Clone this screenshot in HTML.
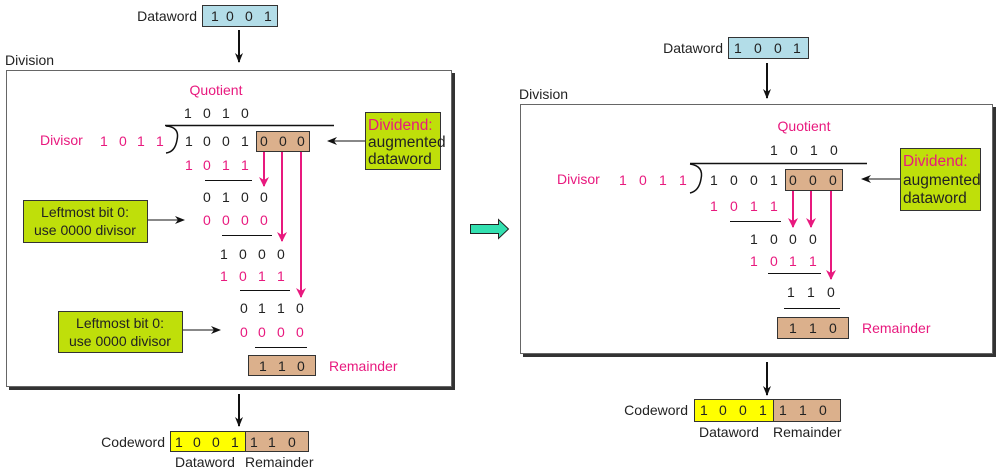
<!DOCTYPE html>
<html><head><meta charset="utf-8"><style>
html,body{margin:0;padding:0;background:#fff;}
svg{display:block;}
text{font-family:"Liberation Sans",sans-serif;font-size:14px;}
.p{fill:#e8197e;}
.k{fill:#222;}
.b{font-size:15.5px;}
</style></head><body>
<svg width="1001" height="471" viewBox="0 0 1001 471" xmlns="http://www.w3.org/2000/svg">
<defs>
<marker id="ab" markerWidth="10" markerHeight="10" refX="9" refY="5" orient="auto" markerUnits="userSpaceOnUse"><path d="M0,1 L10,5 L0,9 L3,5 Z" fill="#111"/></marker>
<marker id="ap" markerWidth="10" markerHeight="12" refX="9" refY="5" orient="auto" markerUnits="userSpaceOnUse"><path d="M0,0 L10,5 L0,10 L3,5 Z" fill="#e8197e"/></marker>
</defs>

<!-- ============ LEFT ============ -->
<text x="197" y="21" text-anchor="end" class="k">Dataword</text>
<rect x="202.5" y="5.5" width="75" height="21" fill="#b3dde8" stroke="#333"/>
<text x="211" y="21" class="k">1</text><text x="226" y="21" class="k">0</text><text x="245" y="21" class="k">0</text><text x="264" y="21" class="k">1</text>
<line x1="239" y1="30" x2="239" y2="62" stroke="#111" stroke-width="2" marker-end="url(#ab)"/>
<text x="5" y="65" class="k">Division</text>
<rect x="9" y="73" width="446" height="317" fill="#333"/>
<rect x="6.5" y="70.5" width="445" height="316" fill="#fff" stroke="#666"/>

<text x="216" y="95" text-anchor="middle" class="p">Quotient</text>
<text x="184" y="118" class="k">1</text><text x="203" y="118" class="k">0</text><text x="222" y="118" class="k">1</text><text x="241" y="118" class="k">0</text>
<line x1="165" y1="125.5" x2="334" y2="125.5" stroke="#111" stroke-width="1.5"/>
<path d="M166,126 Q180,127 177,140 Q175,152 166,153" fill="none" stroke="#111" stroke-width="1.5"/>
<text x="40" y="145" class="p">Divisor</text>
<text x="100" y="146" class="p">1</text><text x="119" y="146" class="p">0</text><text x="137" y="146" class="p">1</text><text x="156" y="146" class="p">1</text>
<text x="185" y="146" class="k">1</text><text x="203" y="146" class="k">0</text><text x="222" y="146" class="k">0</text><text x="241" y="146" class="k">1</text>
<rect x="256.5" y="131.5" width="53" height="20" fill="#dbb08c" stroke="#333"/>
<text x="260" y="146" class="k">0</text><text x="279" y="146" class="k">0</text><text x="297" y="146" class="k">0</text>
<rect x="365.5" y="112.5" width="75" height="57" fill="#bfdf0a" stroke="#333"/>
<text x="368" y="130" class="p b">Dividend:</text>
<text x="368" y="147" class="k b">augmented</text>
<text x="368" y="164" class="k b">dataword</text>
<line x1="365" y1="141" x2="328" y2="141" stroke="#111" stroke-width="1" marker-end="url(#ab)"/>
<text x="185" y="170" class="p">1</text><text x="203" y="170" class="p">0</text><text x="222" y="170" class="p">1</text><text x="241" y="170" class="p">1</text>
<line x1="205" y1="180.5" x2="252" y2="180.5" stroke="#111"/>
<line x1="264" y1="152" x2="264" y2="186" stroke="#e8197e" stroke-width="2" marker-end="url(#ap)"/>
<line x1="282" y1="152" x2="282" y2="241" stroke="#e8197e" stroke-width="2" marker-end="url(#ap)"/>
<line x1="301" y1="152" x2="301" y2="297" stroke="#e8197e" stroke-width="2" marker-end="url(#ap)"/>
<text x="203" y="202" class="k">0</text><text x="222" y="202" class="k">1</text><text x="241" y="202" class="k">0</text><text x="260" y="202" class="k">0</text>
<rect x="23.5" y="200.5" width="124" height="42" fill="#bfdf0a" stroke="#333"/>
<text x="85" y="217" text-anchor="middle" class="k">Leftmost bit 0:</text>
<text x="85" y="235" text-anchor="middle" class="k">use 0000 divisor</text>
<line x1="148" y1="220" x2="184" y2="220" stroke="#111" marker-end="url(#ab)"/>
<text x="203" y="225" class="p">0</text><text x="222" y="225" class="p">0</text><text x="241" y="225" class="p">0</text><text x="260" y="225" class="p">0</text>
<line x1="222" y1="235.5" x2="272" y2="235.5" stroke="#111"/>
<text x="220" y="259" class="k">1</text><text x="239" y="259" class="k">0</text><text x="258" y="259" class="k">0</text><text x="277" y="259" class="k">0</text>
<text x="220" y="281" class="p">1</text><text x="239" y="281" class="p">0</text><text x="258" y="281" class="p">1</text><text x="277" y="281" class="p">1</text>
<line x1="240" y1="290.5" x2="290" y2="290.5" stroke="#111"/>
<text x="240" y="313" class="k">0</text><text x="258" y="313" class="k">1</text><text x="277" y="313" class="k">1</text><text x="296" y="313" class="k">0</text>
<rect x="58.5" y="311.5" width="124" height="41" fill="#bfdf0a" stroke="#333"/>
<text x="120" y="328" text-anchor="middle" class="k">Leftmost bit 0:</text>
<text x="120" y="346" text-anchor="middle" class="k">use 0000 divisor</text>
<line x1="183" y1="330" x2="220" y2="330" stroke="#111" marker-end="url(#ab)"/>
<text x="240" y="337" class="p">0</text><text x="258" y="337" class="p">0</text><text x="277" y="337" class="p">0</text><text x="296" y="337" class="p">0</text>
<line x1="255" y1="347.5" x2="307" y2="347.5" stroke="#111"/>
<rect x="248.5" y="355.5" width="67" height="20" fill="#dbb08c" stroke="#333"/>
<text x="259" y="371" class="k">1</text><text x="278" y="371" class="k">1</text><text x="297" y="371" class="k">0</text>
<text x="329" y="371" class="p">Remainder</text>
<line x1="239" y1="394" x2="239" y2="426" stroke="#111" stroke-width="2" marker-end="url(#ab)"/>
<text x="165" y="447" text-anchor="end" class="k">Codeword</text>
<rect x="170.5" y="431.5" width="75" height="20" fill="#ffff00" stroke="#333"/>
<rect x="245.5" y="431.5" width="63" height="20" fill="#dbb08c" stroke="#333"/>
<text x="175" y="447" class="k">1</text><text x="193" y="447" class="k">0</text><text x="212" y="447" class="k">0</text><text x="231" y="447" class="k">1</text>
<text x="250" y="447" class="k">1</text><text x="268" y="447" class="k">1</text><text x="288" y="447" class="k">0</text>
<text x="175" y="467" class="k">Dataword</text><text x="245" y="467" class="k">Remainder</text>

<!-- teal arrow -->
<path d="M470.5,224.5 L498.5,224.5 L498.5,219.5 L508.5,229 L498.5,238.5 L498.5,233.5 L470.5,233.5 Z" fill="#33e0b0" stroke="#222"/>

<!-- ============ RIGHT ============ -->
<text x="723" y="53" text-anchor="end" class="k">Dataword</text>
<rect x="728.5" y="37.5" width="80" height="21" fill="#b3dde8" stroke="#333"/>
<text x="734" y="53" class="k">1</text><text x="754" y="53" class="k">0</text><text x="774" y="53" class="k">0</text><text x="793" y="53" class="k">1</text>
<line x1="767" y1="63" x2="767" y2="98" stroke="#111" stroke-width="2" marker-end="url(#ab)"/>
<text x="519" y="99" class="k">Division</text>
<rect x="523" y="107" width="473" height="250" fill="#333"/>
<rect x="520.5" y="104.5" width="472" height="249" fill="#fff" stroke="#666"/>

<text x="804" y="131" text-anchor="middle" class="p">Quotient</text>
<text x="770" y="155" class="k">1</text><text x="790" y="155" class="k">0</text><text x="810" y="155" class="k">1</text><text x="830" y="155" class="k">0</text>
<line x1="690" y1="163.5" x2="867" y2="163.5" stroke="#111" stroke-width="1.5"/>
<path d="M690,164 Q704,166 701,179 Q699,191 690,193" fill="none" stroke="#111" stroke-width="1.5"/>
<text x="557" y="184" class="p">Divisor</text>
<text x="619" y="185" class="p">1</text><text x="639" y="185" class="p">0</text><text x="659" y="185" class="p">1</text><text x="679" y="185" class="p">1</text>
<text x="710" y="185" class="k">1</text><text x="730" y="185" class="k">0</text><text x="750" y="185" class="k">0</text><text x="770" y="185" class="k">1</text>
<rect x="785.5" y="169.5" width="57" height="21" fill="#dbb08c" stroke="#333"/>
<text x="789" y="185" class="k">0</text><text x="809" y="185" class="k">0</text><text x="829" y="185" class="k">0</text>
<rect x="900.5" y="148.5" width="80" height="62" fill="#bfdf0a" stroke="#333"/>
<text x="903" y="166" class="p b">Dividend:</text>
<text x="903" y="185" class="k b">augmented</text>
<text x="903" y="203" class="k b">dataword</text>
<line x1="900" y1="179" x2="862" y2="179" stroke="#111" marker-end="url(#ab)"/>
<text x="710" y="211" class="p">1</text><text x="730" y="211" class="p">0</text><text x="750" y="211" class="p">1</text><text x="770" y="211" class="p">1</text>
<line x1="730" y1="221.5" x2="781" y2="221.5" stroke="#111"/>
<line x1="793" y1="191" x2="793" y2="227" stroke="#e8197e" stroke-width="2" marker-end="url(#ap)"/>
<line x1="811" y1="191" x2="811" y2="227" stroke="#e8197e" stroke-width="2" marker-end="url(#ap)"/>
<line x1="831" y1="191" x2="831" y2="279" stroke="#e8197e" stroke-width="2" marker-end="url(#ap)"/>
<text x="750" y="244" class="k">1</text><text x="770" y="244" class="k">0</text><text x="789" y="244" class="k">0</text><text x="809" y="244" class="k">0</text>
<text x="750" y="266" class="p">1</text><text x="770" y="266" class="p">0</text><text x="789" y="266" class="p">1</text><text x="809" y="266" class="p">1</text>
<line x1="768" y1="273.5" x2="821" y2="273.5" stroke="#111"/>
<text x="787" y="297" class="k">1</text><text x="807" y="297" class="k">1</text><text x="827" y="297" class="k">0</text>
<line x1="784" y1="308.5" x2="840" y2="308.5" stroke="#111"/>
<rect x="777.5" y="317.5" width="71" height="21" fill="#dbb08c" stroke="#333"/>
<text x="789" y="333" class="k">1</text><text x="809" y="333" class="k">1</text><text x="829" y="333" class="k">0</text>
<text x="862" y="333" class="p">Remainder</text>
<line x1="767" y1="362" x2="767" y2="395" stroke="#111" stroke-width="2" marker-end="url(#ab)"/>
<text x="688" y="415" text-anchor="end" class="k">Codeword</text>
<rect x="694.5" y="399.5" width="79" height="22" fill="#ffff00" stroke="#333"/>
<rect x="773.5" y="399.5" width="67" height="22" fill="#dbb08c" stroke="#333"/>
<text x="700" y="415" class="k">1</text><text x="719" y="415" class="k">0</text><text x="739" y="415" class="k">0</text><text x="759" y="415" class="k">1</text>
<text x="779" y="415" class="k">1</text><text x="799" y="415" class="k">1</text><text x="819" y="415" class="k">0</text>
<text x="699" y="437" class="k">Dataword</text><text x="773" y="437" class="k">Remainder</text>
</svg>
</body></html>
